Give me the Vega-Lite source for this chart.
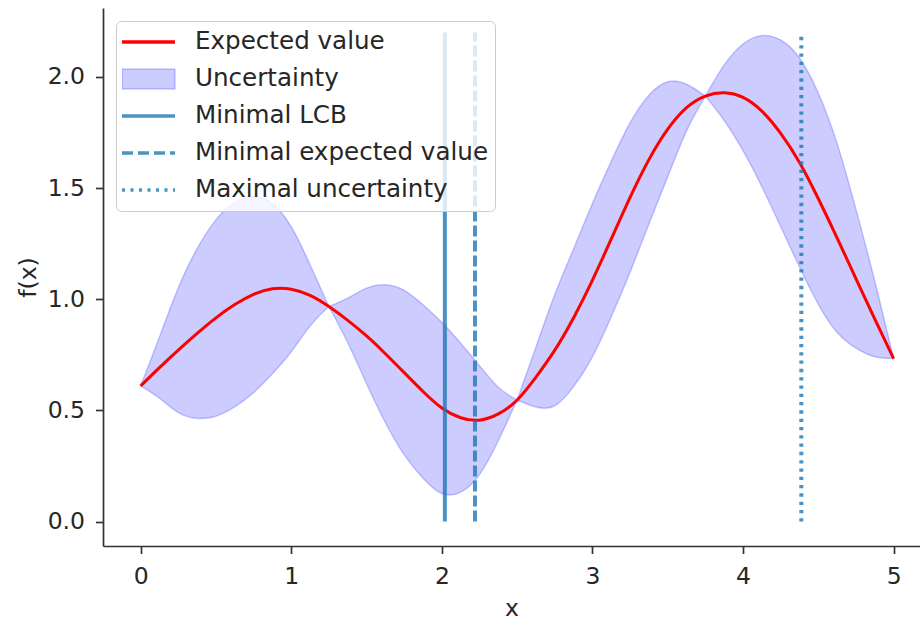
{
  "$schema": "https://vega.github.io/schema/vega-lite/v6.json",
  "width": 817,
  "height": 538,
  "autosize": {"type": "none"},
  "padding": {"left": 103, "top": 8, "right": 0, "bottom": 77},
  "background": "white",
  "config": {
    "view": {"stroke": null},
    "font": "DejaVu Sans",
    "axis": {
      "labelFont": "DejaVu Sans",
      "labelFontSize": 23.5,
      "labelColor": "#262626",
      "titleFont": "DejaVu Sans",
      "titleFontSize": 23.5,
      "titleFontWeight": "normal",
      "titleColor": "#262626",
      "domainColor": "#333333",
      "domainWidth": 1.7,
      "tickColor": "#333333",
      "tickWidth": 1.7,
      "tickSize": 7.5,
      "grid": false
    },
    "legend": {
      "title": null,
      "orient": "none",
      "legendX": 13,
      "legendY": 13,
      "padding": 6,
      "fillColor": "rgba(255,255,255,0.8)",
      "strokeColor": "#cccccc",
      "cornerRadius": 5,
      "labelFont": "DejaVu Sans",
      "labelFontSize": 24.6,
      "labelColor": "#262626",
      "labelLimit": 0,
      "labelOffset": 16,
      "symbolSize": 2809,
      "symbolStrokeWidth": 3.5,
      "clipHeight": 30,
      "rowPadding": 7
    }
  },
  "datasets": {
    "band": [
      {"seg": 1, "x": 0.000, "lower": 0.61, "upper": 0.61},
      {"seg": 1, "x": 0.125, "lower": 0.5545, "upper": 0.8305},
      {"seg": 1, "x": 0.250, "lower": 0.49, "upper": 1.052},
      {"seg": 1, "x": 0.375, "lower": 0.464, "upper": 1.228},
      {"seg": 1, "x": 0.500, "lower": 0.474, "upper": 1.358},
      {"seg": 1, "x": 0.625, "lower": 0.516, "upper": 1.436},
      {"seg": 1, "x": 0.750, "lower": 0.58, "upper": 1.464},
      {"seg": 1, "x": 0.875, "lower": 0.665, "upper": 1.429},
      {"seg": 1, "x": 1.000, "lower": 0.764, "upper": 1.326},
      {"seg": 1, "x": 1.125, "lower": 0.879, "upper": 1.155},
      {"seg": 1, "x": 1.250, "lower": 0.967, "upper": 0.967},
      {"seg": 2, "x": 1.250, "lower": 0.967, "upper": 0.967},
      {"seg": 2, "x": 1.375, "lower": 0.805, "upper": 1.005},
      {"seg": 2, "x": 1.500, "lower": 0.62, "upper": 1.05},
      {"seg": 2, "x": 1.625, "lower": 0.445, "upper": 1.065},
      {"seg": 2, "x": 1.750, "lower": 0.30, "upper": 1.04},
      {"seg": 2, "x": 1.875, "lower": 0.195, "upper": 0.975},
      {"seg": 2, "x": 2.000, "lower": 0.126, "upper": 0.896},
      {"seg": 2, "x": 2.125, "lower": 0.132, "upper": 0.802},
      {"seg": 2, "x": 2.250, "lower": 0.211, "upper": 0.701},
      {"seg": 2, "x": 2.375, "lower": 0.364, "upper": 0.604},
      {"seg": 2, "x": 2.500, "lower": 0.547, "upper": 0.547},
      {"seg": 3, "x": 2.500, "lower": 0.547, "upper": 0.547},
      {"seg": 3, "x": 2.625, "lower": 0.515, "upper": 0.785},
      {"seg": 3, "x": 2.750, "lower": 0.521, "upper": 1.021},
      {"seg": 3, "x": 2.875, "lower": 0.607, "upper": 1.227},
      {"seg": 3, "x": 3.000, "lower": 0.741, "upper": 1.431},
      {"seg": 3, "x": 3.125, "lower": 0.921, "upper": 1.621},
      {"seg": 3, "x": 3.250, "lower": 1.122, "upper": 1.794},
      {"seg": 3, "x": 3.375, "lower": 1.338, "upper": 1.918},
      {"seg": 3, "x": 3.500, "lower": 1.5515, "upper": 1.9785},
      {"seg": 3, "x": 3.625, "lower": 1.757, "upper": 1.967},
      {"seg": 3, "x": 3.750, "lower": 1.914, "upper": 1.914},
      {"seg": 4, "x": 3.750, "lower": 1.914, "upper": 1.914},
      {"seg": 4, "x": 3.875, "lower": 1.804, "upper": 2.054},
      {"seg": 4, "x": 4.000, "lower": 1.668, "upper": 2.148},
      {"seg": 4, "x": 4.125, "lower": 1.506, "upper": 2.186},
      {"seg": 4, "x": 4.250, "lower": 1.326, "upper": 2.166},
      {"seg": 4, "x": 4.375, "lower": 1.145, "upper": 2.085},
      {"seg": 4, "x": 4.500, "lower": 0.977, "upper": 1.927},
      {"seg": 4, "x": 4.625, "lower": 0.85, "upper": 1.70},
      {"seg": 4, "x": 4.750, "lower": 0.78, "upper": 1.404},
      {"seg": 4, "x": 4.875, "lower": 0.741, "upper": 1.081},
      {"seg": 4, "x": 5.000, "lower": 0.733, "upper": 0.733}
    ],
    "mean": [
      {"x": 0.000, "mean": 0.61},
      {"x": 0.125, "mean": 0.6925},
      {"x": 0.250, "mean": 0.771},
      {"x": 0.375, "mean": 0.846},
      {"x": 0.500, "mean": 0.916},
      {"x": 0.625, "mean": 0.976},
      {"x": 0.750, "mean": 1.022},
      {"x": 0.875, "mean": 1.047},
      {"x": 1.000, "mean": 1.045},
      {"x": 1.125, "mean": 1.017},
      {"x": 1.250, "mean": 0.967},
      {"x": 1.375, "mean": 0.905},
      {"x": 1.500, "mean": 0.835},
      {"x": 1.625, "mean": 0.755},
      {"x": 1.750, "mean": 0.67},
      {"x": 1.875, "mean": 0.585},
      {"x": 2.000, "mean": 0.511},
      {"x": 2.125, "mean": 0.467},
      {"x": 2.250, "mean": 0.456},
      {"x": 2.375, "mean": 0.484},
      {"x": 2.500, "mean": 0.547},
      {"x": 2.625, "mean": 0.65},
      {"x": 2.750, "mean": 0.771},
      {"x": 2.875, "mean": 0.917},
      {"x": 3.000, "mean": 1.086},
      {"x": 3.125, "mean": 1.271},
      {"x": 3.250, "mean": 1.458},
      {"x": 3.375, "mean": 1.628},
      {"x": 3.500, "mean": 1.765},
      {"x": 3.625, "mean": 1.862},
      {"x": 3.750, "mean": 1.914},
      {"x": 3.875, "mean": 1.929},
      {"x": 4.000, "mean": 1.908},
      {"x": 4.125, "mean": 1.846},
      {"x": 4.250, "mean": 1.746},
      {"x": 4.375, "mean": 1.615},
      {"x": 4.500, "mean": 1.452},
      {"x": 4.625, "mean": 1.275},
      {"x": 4.750, "mean": 1.092},
      {"x": 4.875, "mean": 0.911},
      {"x": 5.000, "mean": 0.733}
    ],
    "vlines": [
      {"x": 2.02, "series": "Minimal LCB"},
      {"x": 2.22, "series": "Minimal expected value"},
      {"x": 4.387, "series": "Maximal uncertainty"}
    ]
  },
  "layer": [
    {
      "data": {"name": "band"},
      "mark": {"type": "area", "interpolate": "natural", "fillOpacity": 0.2, "stroke": "#0000ff", "strokeOpacity": 0.2, "strokeWidth": 1.5},
      "encoding": {
        "x": {"field": "x", "type": "quantitative", "scale": {"domain": [-0.25, 5.175], "zero": false, "nice": false},
              "axis": {"values": [0, 1, 2, 3, 4, 5], "format": "d", "title": "x", "labelPadding": 11, "titlePadding": 8}},
        "y": {"field": "lower", "type": "quantitative", "scale": {"domain": [-0.11, 2.31], "zero": false, "nice": false},
              "axis": {"values": [0, 0.5, 1, 1.5, 2], "format": ".1f", "title": "f(x)", "labelPadding": 11, "titlePadding": 7}},
        "y2": {"field": "upper"},
        "detail": {"field": "seg", "type": "nominal"},
        "color": {
          "datum": "Uncertainty", "type": "nominal",
          "scale": {
            "domain": ["Expected value", "Uncertainty", "Minimal LCB", "Minimal expected value", "Maximal uncertainty"],
            "range": ["#ff0000", "#0000ff", "#1f77b4", "#1f77b4", "#1f77b4"]
          },
          "legend": {
            "title": null,
            "labelLimit": 0,
            "encode": {
              "symbols": {
                "update": {
                  "x": {"value": 26.5},
                  "size": {"value": 2809},
                  "shape": {"signal": "datum.value === 'Uncertainty' ? 'M-1,-0.38H1V0.38H-1Z' : 'stroke'"},
                  "fill": {"signal": "datum.value === 'Uncertainty' ? '#0000ff' : 'transparent'"},
                  "fillOpacity": {"value": 0.2},
                  "stroke": {"signal": "datum.value === 'Expected value' ? '#ff0000' : (datum.value === 'Uncertainty' ? '#0000ff' : '#1f77b4')"},
                  "strokeOpacity": {"signal": "datum.value === 'Uncertainty' ? 0.2 : (datum.value === 'Expected value' ? 1 : 0.8)"},
                  "strokeDash": {"signal": "datum.value === 'Minimal expected value' ? [11, 5] : (datum.value === 'Maximal uncertainty' ? [3, 5.5] : [1, 0])"},
                  "strokeWidth": {"signal": "datum.value === 'Uncertainty' ? 1.5 : 3.5"},
                  "opacity": {"value": 1}
                }
              },
              "labels": {"update": {"x": {"value": 73}}}
            }
          }
        }
      }
    },
    {
      "data": {"name": "mean"},
      "mark": {"type": "line", "interpolate": "natural", "strokeWidth": 3},
      "encoding": {
        "x": {"field": "x", "type": "quantitative"},
        "y": {"field": "mean", "type": "quantitative"},
        "color": {
          "datum": "Expected value", "type": "nominal",
          "legend": {
            "title": null,
            "labelLimit": 0,
            "encode": {
              "symbols": {
                "update": {
                  "x": {"value": 26.5},
                  "size": {"value": 2809},
                  "shape": {"signal": "datum.value === 'Uncertainty' ? 'M-1,-0.38H1V0.38H-1Z' : 'stroke'"},
                  "fill": {"signal": "datum.value === 'Uncertainty' ? '#0000ff' : 'transparent'"},
                  "fillOpacity": {"value": 0.2},
                  "stroke": {"signal": "datum.value === 'Expected value' ? '#ff0000' : (datum.value === 'Uncertainty' ? '#0000ff' : '#1f77b4')"},
                  "strokeOpacity": {"signal": "datum.value === 'Uncertainty' ? 0.2 : (datum.value === 'Expected value' ? 1 : 0.8)"},
                  "strokeDash": {"signal": "datum.value === 'Minimal expected value' ? [11, 5] : (datum.value === 'Maximal uncertainty' ? [3, 5.5] : [1, 0])"},
                  "strokeWidth": {"signal": "datum.value === 'Uncertainty' ? 1.5 : 3.5"},
                  "opacity": {"value": 1}
                }
              },
              "labels": {"update": {"x": {"value": 73}}}
            }
          }
        }
      }
    },
    {
      "data": {"name": "vlines"},
      "mark": {"type": "rule", "strokeWidth": 4, "opacity": 0.8},
      "encoding": {
        "x": {"field": "x", "type": "quantitative"},
        "y": {"datum": 0},
        "y2": {"datum": 2.2},
        "color": {
          "field": "series", "type": "nominal",
          "legend": {
            "title": null,
            "labelLimit": 0,
            "encode": {
              "symbols": {
                "update": {
                  "x": {"value": 26.5},
                  "size": {"value": 2809},
                  "shape": {"signal": "datum.value === 'Uncertainty' ? 'M-1,-0.38H1V0.38H-1Z' : 'stroke'"},
                  "fill": {"signal": "datum.value === 'Uncertainty' ? '#0000ff' : 'transparent'"},
                  "fillOpacity": {"value": 0.2},
                  "stroke": {"signal": "datum.value === 'Expected value' ? '#ff0000' : (datum.value === 'Uncertainty' ? '#0000ff' : '#1f77b4')"},
                  "strokeOpacity": {"signal": "datum.value === 'Uncertainty' ? 0.2 : (datum.value === 'Expected value' ? 1 : 0.8)"},
                  "strokeDash": {"signal": "datum.value === 'Minimal expected value' ? [11, 5] : (datum.value === 'Maximal uncertainty' ? [3, 5.5] : [1, 0])"},
                  "strokeWidth": {"signal": "datum.value === 'Uncertainty' ? 1.5 : 3.5"},
                  "opacity": {"value": 1}
                }
              },
              "labels": {"update": {"x": {"value": 73}}}
            }
          }
        },
        "strokeDash": {
          "field": "series", "type": "nominal",
          "scale": {"domain": ["Minimal LCB", "Minimal expected value", "Maximal uncertainty"], "range": [[1, 0], [11, 4], [3.3, 5]]},
          "legend": null
        }
      }
    },
    {
      "mark": {"type": "rule", "color": "#333333", "strokeWidth": 1.7},
      "encoding": {"y": {"datum": 2.31}}
    }
  ]
}
